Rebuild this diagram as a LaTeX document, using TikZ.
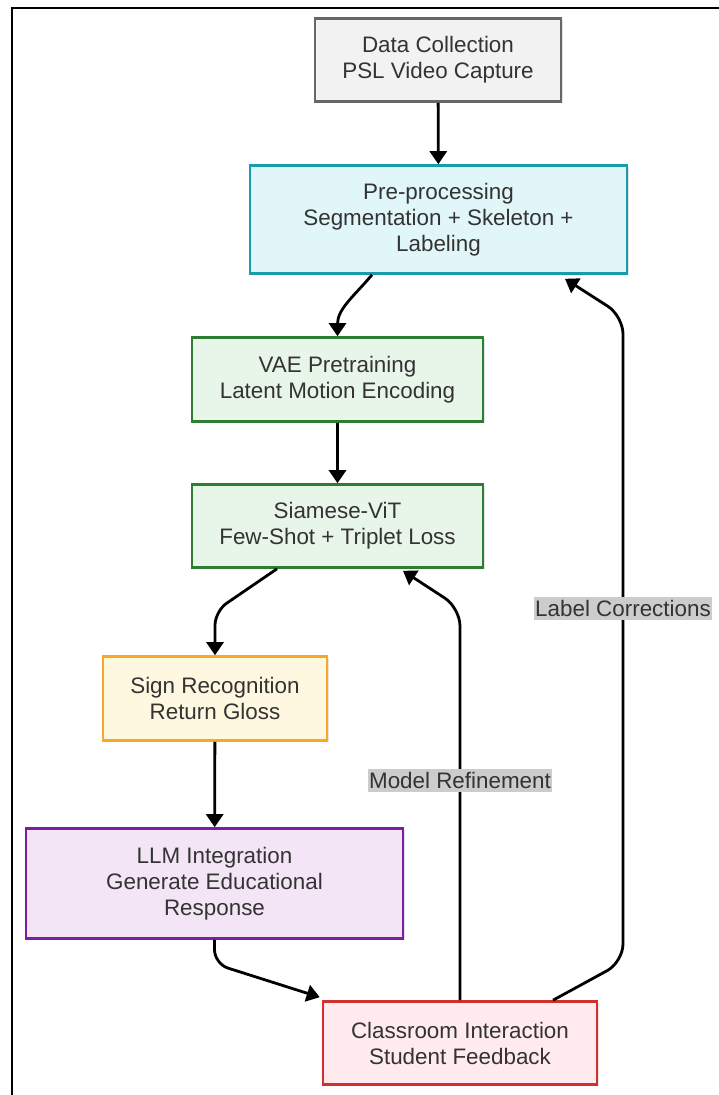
\documentclass[tikz,border=0pt]{standalone}
\usepackage{fontspec}
\setmainfont{Liberation Sans}
\usetikzlibrary{arrows.meta, shadows}

\definecolor{txtgray}{HTML}{333333}
\definecolor{datafill}{HTML}{F2F2F2}
\definecolor{dataline}{HTML}{666666}
\definecolor{prefill}{HTML}{E0F6F9}
\definecolor{preline}{HTML}{1A9BAB}
\definecolor{greenfill}{HTML}{E8F5E9}
\definecolor{greenline}{HTML}{2E7D32}
\definecolor{signfill}{HTML}{FFF8E1}
\definecolor{signline}{HTML}{F9A825}
\definecolor{llmfill}{HTML}{F3E5F5}
\definecolor{llmline}{HTML}{7B1FA2}
\definecolor{classfill}{HTML}{FFEBEE}
\definecolor{classline}{HTML}{D32F2F}
\definecolor{lblfill}{HTML}{CCCCCC}

\begin{document}
\begin{tikzpicture}[x=1pt, y=-1pt, ->, >={Triangle[length=13pt, width=17pt]},
    line width=2.8pt, align=center,
    every node/.style={font=\fontsize{22.4}{26}\selectfont, text=txtgray}]

  \tikzstyle{block}=[rectangle, draw, line width=2.6pt,
    drop shadow={opacity=0.2, shadow xshift=1.5pt, shadow yshift=-1.5pt}]
  \tikzstyle{feedback}=[fill=lblfill, draw=none, sharp corners, inner xsep=1pt,
    inner ysep=3pt, text=txtgray]

  \useasboundingbox (0,0) rectangle (718,1095);
  \draw[-, line width=1.5pt] (12,1100) -- (12,8) -- (730,8);

  \node[block, fill=datafill, draw=dataline, minimum width=246pt, minimum height=83pt]
    (DATA) at (438,60) {Data Collection\\PSL Video Capture};
  \node[block, fill=prefill, draw=preline, minimum width=377pt, minimum height=108pt]
    (PRE) at (438.5,219.5) {Pre-processing\\Segmentation + Skeleton +\\Labeling};
  \node[block, fill=greenfill, draw=greenline, minimum width=291pt, minimum height=84pt]
    (VAE) at (337.5,379.5) {VAE Pretraining\\Latent Motion Encoding};
  \node[block, fill=greenfill, draw=greenline, minimum width=291pt, minimum height=83pt]
    (SIAM) at (337.5,526) {Siamese-ViT\\Few-Shot + Triplet Loss};
  \node[block, fill=signfill, draw=signline, minimum width=224pt, minimum height=84pt]
    (SIGN) at (215,698.5) {Sign Recognition\\Return Gloss};
  \node[block, fill=llmfill, draw=llmline, minimum width=377pt, minimum height=110pt]
    (LLM) at (214.5,883.5) {LLM Integration\\Generate Educational\\Response};
  \node[block, fill=classfill, draw=classline, minimum width=274pt, minimum height=83pt]
    (CLASS) at (460,1043) {Classroom Interaction\\Student Feedback};

  \path[->]
  (DATA) edge (PRE)
  ([xshift=-66.5pt]PRE.south) edge [out=-130, in=90] (VAE.north)
  (VAE) edge (SIAM)
  (SIGN) edge (LLM);

  \draw[rounded corners=14pt] ([xshift=-60.5pt]SIAM.south) -- ([yshift=44pt]SIGN.north) -- (SIGN.north);
  \draw[rounded corners=14pt] (LLM.south) -- ++(0,24) -- ([xshift=-2pt, yshift=3pt]CLASS.north west);

  \draw[rounded corners=18pt] (CLASS.north) -- node[feedback, pos=0.56] {Model Refinement}
    (460,608) -- ([xshift=65.5pt, yshift=-2pt]SIAM.south);
  \draw[rounded corners=18pt] ([xshift=93pt]CLASS.north) -- (623,962) --
    node[feedback, pos=0.547] {Label Corrections}
    (623,316) -- ([xshift=126.5pt, yshift=-4pt]PRE.south);
\end{tikzpicture}
\end{document}
